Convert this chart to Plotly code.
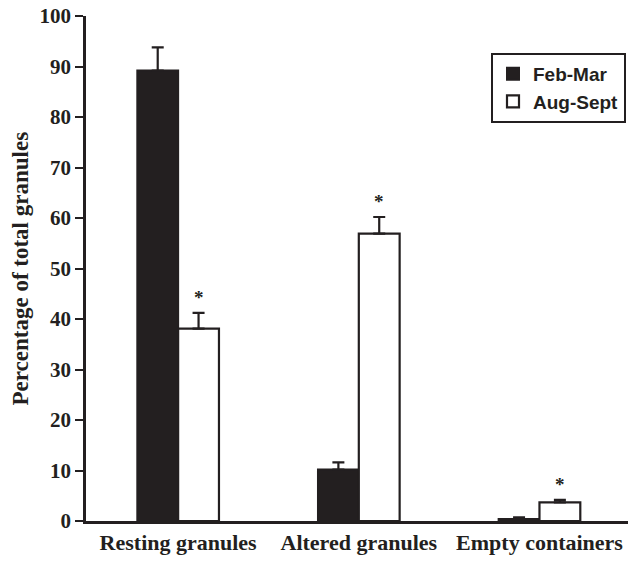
import plotly.graph_objects as go

categories = ["Resting granules", "Altered granules", "Empty containers"]
feb_mar = [89.2, 10.2, 0.4]
feb_mar_err = [4.6, 1.4, 0.3]
aug_sept = [38.1, 56.9, 3.7]
aug_sept_err = [3.1, 3.3, 0.5]
significant = [True, True, True]
y_ticks = [0, 10, 20, 30, 40, 50, 60, 70, 80, 90, 100]

serif = "Liberation Serif"
ink = "#231f20"

fig = go.Figure()
fig.add_trace(go.Bar(
    name="Feb-Mar", x=categories, y=feb_mar,
    marker=dict(color=ink, line=dict(color=ink, width=2)),
    error_y=dict(type="data", array=feb_mar_err, arrayminus=[0]*3, symmetric=False,
                 color=ink, thickness=2.2, width=6),
    legendgroup="a",
))
fig.add_trace(go.Bar(
    name="Aug-Sept", x=categories, y=aug_sept,
    marker=dict(color="white", line=dict(color=ink, width=2.2)),
    error_y=dict(type="data", array=aug_sept_err, arrayminus=[0]*3, symmetric=False,
                 color=ink, thickness=2.2, width=6),
    legendgroup="b",
))

for i, cat in enumerate(categories):
    if significant[i]:
        fig.add_annotation(x=i, y=aug_sept[i] + aug_sept_err[i], xref="x", yref="y",
                           text="<b>*</b>", showarrow=False, xshift=20.5, yshift=15,
                           font=dict(family=serif, size=19, color=ink))

fig.add_annotation(text="<b>Percentage of total granules</b>", xref="paper", yref="paper",
                   x=0, y=0.5, xshift=-66, xanchor="center", yanchor="middle",
                   textangle=-90, showarrow=False,
                   font=dict(family=serif, size=23, color=ink))

fig.update_layout(
    width=628, height=561,
    margin=dict(l=86, r=0, t=16, b=40),
    paper_bgcolor="white", plot_bgcolor="white",
    barmode="group", bargap=0.548, bargroupgap=0,
    showlegend=True,
    legend=dict(x=0.9963, y=0.927, xanchor="right", yanchor="top",
                bordercolor=ink, borderwidth=2, bgcolor="white",
                font=dict(family="Liberation Sans", size=19, color=ink, weight="bold"),
                tracegroupgap=4, traceorder="normal"),
    xaxis=dict(range=[-0.51, 2.49], showline=True, linecolor=ink, linewidth=2.5,
               ticks="", showgrid=False, zeroline=False, automargin=False,
               tickfont=dict(family=serif, size=22, color=ink, weight="bold")),
    yaxis=dict(range=[0, 100], tickvals=y_ticks, showline=True, linecolor=ink,
               linewidth=2.5, ticks="outside", ticklen=8, tickwidth=2, tickcolor=ink,
               showgrid=False, zeroline=False, automargin=False,
               tickfont=dict(family=serif, size=21, color=ink, weight="bold")),
)

fig.write_html("out.html", config={"displayModeBar": False},
               post_script="document.body.style.margin='0';document.body.style.overflow='hidden';")
